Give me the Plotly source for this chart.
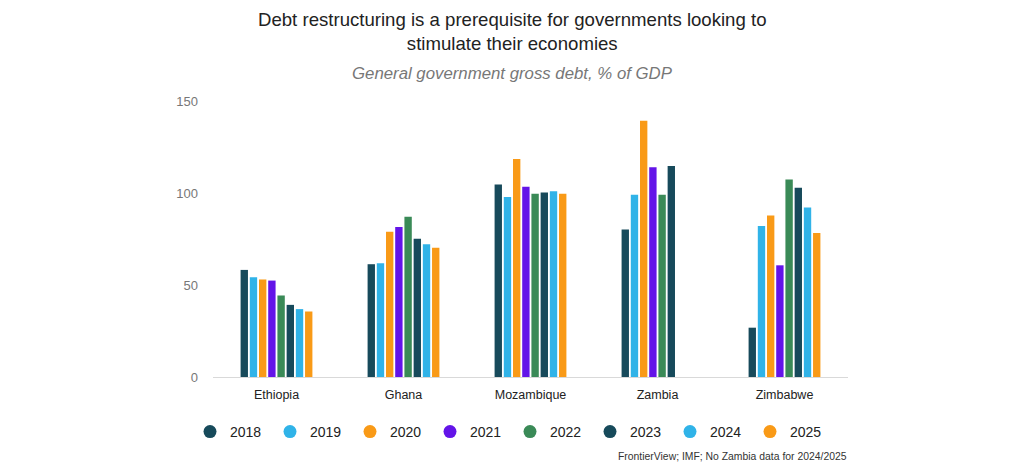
import plotly.graph_objects as go

countries = ["Ethiopia", "Ghana", "Mozambique", "Zambia", "Zimbabwe"]
years = ["2018", "2019", "2020", "2021", "2022", "2023", "2024", "2025"]

d2018 = [58.2, 61.3, 104.6, 80.2, 26.8]
d2019 = [54.2, 61.8, 97.8, 99.0, 82.0]
d2020 = [53.0, 79.0, 118.5, 139.3, 87.8]
d2021 = [52.4, 81.5, 103.4, 114.0, 60.7]
d2022 = [44.3, 87.1, 99.6, 99.0, 107.3]
d2023 = [39.2, 75.2, 100.3, 114.7, 102.8]
d2024 = [36.9, 72.1, 101.0, None, 92.1]
d2025 = [35.6, 70.3, 99.6, None, 78.3]

series = [d2018, d2019, d2020, d2021, d2022, d2023, d2024, d2025]
colors = ["#174a5b", "#30b3e8", "#f99a17", "#6314e8", "#3a8a57",
          "#174a5b", "#30b3e8", "#f99a17"]

# The page body adds an 8px offset; the figure is sized to fill the rest.
OFF = 8
W, H = 1024 - OFF, 465 - OFF
L, R, T, B = 213 - OFF, 1024 - 848, 101 - OFF, 465 - 377
PW, PH = W - L - R, H - T - B


def px_x(px):
    return (px - OFF - L) / PW


def px_y(py):
    return (H - B - (py - OFF)) / PH


fig = go.Figure()
for yr, vals, c in zip(years, series, colors):
    fig.add_trace(go.Bar(x=countries, y=vals, name=yr, marker_color=c,
                         marker_line_width=0, showlegend=False,
                         hovertemplate="%{x} " + yr + ": %{y}<extra></extra>"))
for yr, c in zip(years, colors):
    fig.add_trace(go.Scatter(x=[None], y=[None], mode="markers", name=yr,
                             marker=dict(symbol="circle", size=13, color=c),
                             showlegend=True))

fig.update_layout(
    width=W, height=H,
    paper_bgcolor="white", plot_bgcolor="white",
    margin=dict(l=L, r=R, t=T, b=B, autoexpand=False),
    barmode="group", bargap=0.42, bargroupgap=0.2,
    font=dict(family="Liberation Sans, Arial, sans-serif", color="#222"),
    xaxis=dict(showgrid=False, showline=True, linecolor="#d9d9d9", linewidth=1,
               ticks="", tickfont=dict(size=12.5, color="#222"),
               ticklabelstandoff=6, fixedrange=True),
    yaxis=dict(range=[0, 150], tickvals=[0, 50, 100, 150], showgrid=False,
               zeroline=False, showline=False, ticks="",
               tickfont=dict(size=13, color="#777"), ticklabelstandoff=14),
    legend=dict(orientation="h", x=px_x(190), xanchor="left",
                y=px_y(432), yanchor="middle",
                xref="paper", yref="paper",
                font=dict(size=14, color="#222"), itemwidth=30,
                entrywidth=35, entrywidthmode="pixels"),
)
fig.add_annotation(text="Debt restructuring is a prerequisite for governments looking to<br>stimulate their economies",
                   xref="paper", yref="paper", x=px_x(512), y=px_y(31),
                   xanchor="center", yanchor="middle", showarrow=False,
                   font=dict(size=18.6, color="#222"))
fig.add_annotation(text="<i>General government gross debt, % of GDP</i>",
                   xref="paper", yref="paper", x=px_x(512), y=px_y(73),
                   xanchor="center", yanchor="middle", showarrow=False,
                   font=dict(size=16.8, color="#777"))
fig.add_annotation(text="FrontierView; IMF; No Zambia data for 2024/2025",
                   xref="paper", yref="paper", x=px_x(849), y=px_y(456),
                   xanchor="right", yanchor="middle", showarrow=False,
                   font=dict(size=10.4, color="#333"))

fig.write_html("out.html")
